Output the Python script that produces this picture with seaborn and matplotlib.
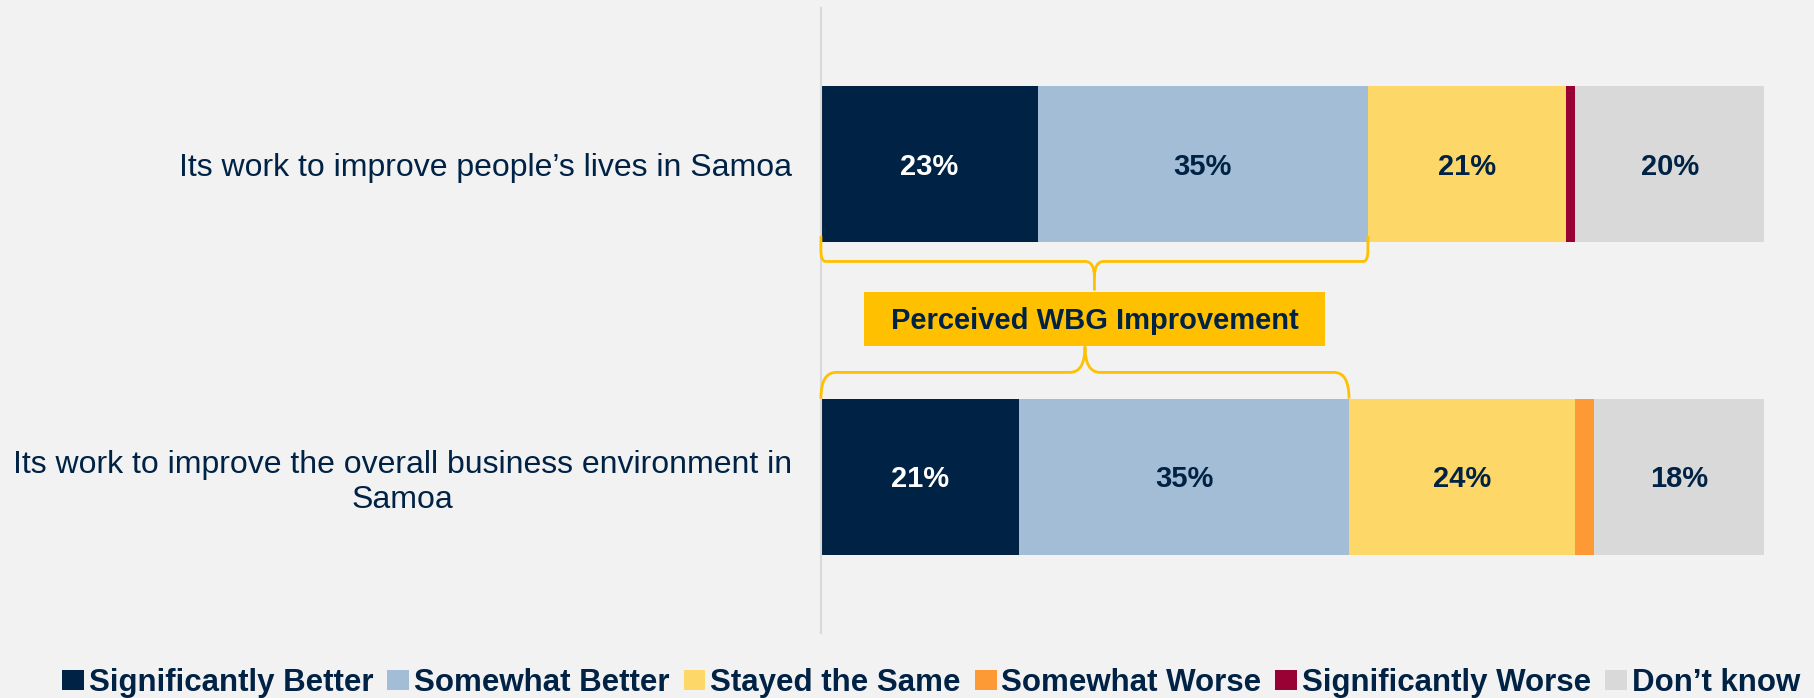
import numpy as np
import pandas as pd
import matplotlib
matplotlib.use('Agg')
import matplotlib.pyplot as plt
import seaborn as sns
from matplotlib.path import Path
from matplotlib.patches import PathPatch, Rectangle, Patch

# Survey data (percent of respondents)
questions = ["Its work to improve people’s lives in Samoa",
             "Its work to improve the overall business environment in\nSamoa"]
responses = ["Significantly Better", "Somewhat Better", "Stayed the Same",
             "Somewhat Worse", "Significantly Worse", "Don’t know"]
sig_better = [23, 21]
some_better = [35, 35]
same = [21, 24]
some_worse = [0, 2]
sig_worse = [1, 0]
dont_know = [20, 18]
box_label = "Perceived WBG Improvement"

colors = ['#002244', '#A2BDD5', '#FDD868', '#FD9A35', '#990033', '#D9D9D9']
navy = '#002244'
gold = '#FFC000'
bg = '#F2F2F2'

sns.set_style('white')
plt.rcParams['font.family'] = ['Liberation Sans', 'DejaVu Sans']

df = pd.DataFrame({'question': questions})
series = [sig_better, some_better, same, some_worse, sig_worse, dont_know]
for name, vals in zip(responses, series):
    df[name] = vals
cum = df[responses].cumsum(axis=1)

fig = plt.figure(figsize=(18.15, 6.98), dpi=100, facecolor=bg)
ax = fig.add_axes([0.4523, 0.0931, 0.5196, 0.8954], facecolor=bg)

# stacked bars: draw cumulative totals from the longest to the shortest
for k in range(len(responses) - 1, -1, -1):
    sns.barplot(x=cum[responses[k]], y=df['question'], color=colors[k],
                saturation=1, width=0.5, errorbar=None, orient='h',
                linewidth=0, ax=ax)

# segment labels
for i in range(len(df)):
    for k, name in enumerate(responses):
        v = df.loc[i, name]
        if v >= 5:
            xc = cum.loc[i, name] - v / 2
            ax.text(xc, i + 0.008, f"{v}%", ha='center', va='center',
                    fontsize=21, fontweight='bold',
                    color='white' if k == 0 else navy)

ax.set_xlim(0, 100)
ax.set_ylim(1.5, -0.5)
ax.set_xlabel('')
ax.set_ylabel('')
ax.set_xticks([])
ax.set_yticks(range(len(questions)), labels=questions)
ax.tick_params(axis='y', length=0, pad=21, labelsize=23, labelcolor=navy)
for lbl in ax.get_yticklabels():
    lbl.set_multialignment('center')
    lbl.set_linespacing(1.2)
for s in ['top', 'right', 'bottom']:
    ax.spines[s].set_visible(False)
ax.spines['left'].set_color('#D9D9D9')
ax.spines['left'].set_linewidth(1.5)


def brace(x0, x1, y_end, y_h, y_tip, erx, ery, crx, cry):
    xm = (x0 + x1) / 2
    d = 1 if y_tip > y_h else -1
    verts = [(x0, y_end), (x0, y_h - d * ery), (x0, y_h), (x0 + erx, y_h),
             (xm - crx, y_h), (xm, y_h), (xm, y_h + d * cry), (xm, y_tip),
             (xm, y_h + d * cry), (xm, y_h), (xm + crx, y_h),
             (x1 - erx, y_h), (x1, y_h), (x1, y_h - d * ery), (x1, y_end)]
    codes = [Path.MOVETO, Path.LINETO, Path.CURVE3, Path.CURVE3,
             Path.LINETO, Path.CURVE3, Path.CURVE3, Path.LINETO,
             Path.MOVETO, Path.CURVE3, Path.CURVE3,
             Path.LINETO, Path.CURVE3, Path.CURVE3, Path.LINETO]
    ax.add_patch(PathPatch(Path(verts, codes), fill=False, edgecolor=gold,
                           lw=2, clip_on=False, zorder=5))
    return xm


better = cum['Somewhat Better']
xm_top = brace(0, better[0], 0.23, 0.311, 0.404, 0.5, 0.035, 1.0, 0.05)
brace(0, better[1], 0.75, 0.666, 0.583, 1.6, 0.084, 1.6, 0.083)

ax.add_patch(Rectangle((xm_top - 24.4, 0.409), 48.8, 0.174, facecolor=gold,
                       edgecolor='none', zorder=6))
ax.text(xm_top, 0.502, box_label, ha='center', va='center', fontsize=21,
        fontweight='bold', color=navy, zorder=7)

handles = [Patch(facecolor=c, edgecolor='none') for c in colors]
fig.legend(handles, responses, loc='center', bbox_to_anchor=(0.513, 0.021),
           ncol=6, frameon=False, prop={'weight': 'bold', 'size': 22.5},
           labelcolor=navy, handlelength=0.7, handleheight=0.6,
           handletextpad=0.15, columnspacing=0.45, borderaxespad=0,
           borderpad=0)

fig.savefig('out.png', dpi=100, facecolor=bg)
